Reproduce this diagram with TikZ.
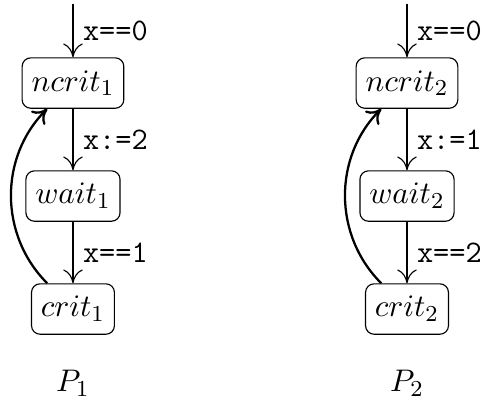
\documentclass[tikz,border=0pt]{standalone}
\usepackage{amsmath}
\usepackage{tikz}
\usetikzlibrary{positioning,arrows.meta}

\begin{document}
\begin{tikzpicture}[
  font=\fontsize{11}{13}\selectfont,
  loc/.style={draw, rounded corners=3pt, inner xsep=3.3pt, inner ysep=4.4pt},
  ar/.style={-{To[length=1.7mm,width=2.4mm]}},
  back/.style={-{To[length=1.7mm,width=2.4mm]}, thick, bend left=45},
  grd/.style={right, font=\fontsize{11}{13}\ttfamily}
]
\useasboundingbox (-0.899,1.023) rectangle (5.039,-3.943);

% process 1
\node[loc] (ncrit1) at (0,0) {$ncrit_1$};
\node[loc] (wait1) at (0,-1.392) {$wait_1$};
\node[loc] (crit1) at (0,-2.784) {$crit_1$};
\node (p1) at (0,-3.696) {$P_1$};
\coordinate[above=6.6mm of ncrit1.north] (init1);

\draw[ar] (init1) -- node[grd] {x==0} (ncrit1);
\draw[ar] (ncrit1) -- node[grd] {x:=2} (wait1);
\draw[ar] (wait1) -- node[grd] {x==1} (crit1);
\draw[back] (crit1) to (ncrit1);

% process 2
\node[loc] (ncrit2) at (4.115,0) {$ncrit_2$};
\node[loc] (wait2) at (4.115,-1.392) {$wait_2$};
\node[loc] (crit2) at (4.115,-2.784) {$crit_2$};
\node (p2) at (4.115,-3.696) {$P_2$};
\coordinate[above=6.6mm of ncrit2.north] (init2);

\draw[ar] (init2) -- node[grd] {x==0} (ncrit2);
\draw[ar] (ncrit2) -- node[grd] {x:=1} (wait2);
\draw[ar] (wait2) -- node[grd] {x==2} (crit2);
\draw[back] (crit2) to (ncrit2);
\end{tikzpicture}
\end{document}
